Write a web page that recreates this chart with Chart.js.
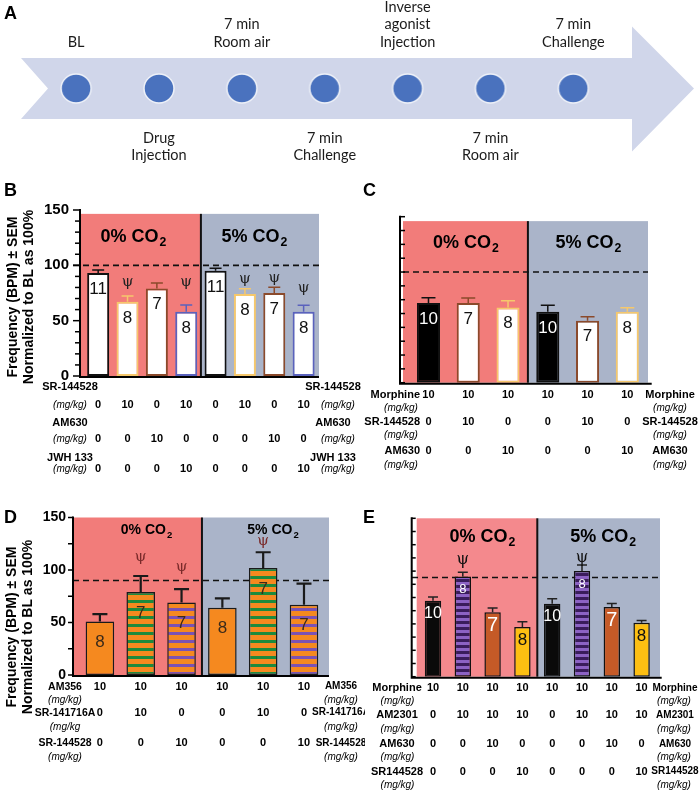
<!DOCTYPE html>
<html>
<head>
<meta charset="utf-8">
<title>CO2 challenge - breathing frequency</title>
<script src="https://cdn.jsdelivr.net/npm/chart.js@4.4.1/dist/chart.umd.min.js"></script>
<style>
  html, body { margin: 0; padding: 0; background: #ffffff; }
  body { position: relative; width: 700px; height: 791px; overflow: hidden; }
  canvas { position: absolute; }
</style>
</head>
<body>
<canvas id="chartA" width="700" height="177" style="left:0px;top:0px"></canvas>
<canvas id="chartB" width="365" height="305" style="left:0px;top:175px"></canvas>
<canvas id="chartC" width="350" height="305" style="left:350px;top:175px"></canvas>
<canvas id="chartD" width="365" height="311" style="left:0px;top:480px"></canvas>
<canvas id="chartE" width="350" height="311" style="left:350px;top:480px"></canvas>
<script>
/*----------------------------------------------------------------------*/
/* dados */
const FONT = '"Liberation Sans", Arial, sans-serif';
const co2Groups = ['0%', '5%'];
const yTitleLines = ['Frequency (BPM) \u00b1 SEM', 'Normalized to BL as 100%'];

// A - protocolo
const timelineSteps = [['BL'], ['Drug', 'Injection'], ['7 min', 'Room air'], ['7 min', 'Challenge'],
  ['Inverse', 'agonist', 'Injection'], ['7 min', 'Room air'], ['7 min', 'Challenge']];
const timelineSide = ['above', 'below', 'above', 'below', 'above', 'below', 'above'];

// B
const bCats = ['Veh 0%', 'SR-144528 0%', 'AM630 0%', 'JWH 133 0%', 'Veh 5%', 'SR-144528 5%', 'AM630 5%', 'JWH 133 5%'];
const bMean = [93, 67, 79, 58, 95, 74, 75, 58];
const bSem = [2.7, 5.4, 5.1, 6.1, 2.4, 4.8, 5.1, 5.9];
const bN = [11, 8, 7, 8, 11, 8, 7, 8];
const bPsi = [0, 1, 0, 1, 0, 1, 1, 1];
const bSR144528 = [0, 10, 0, 10, 0, 10, 0, 10];
const bAM630 = [0, 0, 10, 0, 0, 0, 10, 0];
const bJWH133 = [0, 0, 0, 10, 0, 0, 0, 10];

// C
const cCats = ['Mor 0%', 'Mor+SR 0%', 'Mor+AM630 0%', 'Mor 5%', 'Mor+SR 5%', 'Mor+AM630 5%'];
const cMean = [72, 72, 68, 64, 56, 64];
const cSem = [4.7, 4.5, 6, 6, 3.6, 3.7];
const cN = [10, 7, 8, 10, 7, 8];
const cMorphine = [10, 10, 10, 10, 10, 10];
const cSR144528 = [0, 10, 0, 0, 10, 0];
const cAM630 = [0, 0, 10, 0, 0, 10];

// D
const dCats = ['AM356 0%', 'AM356+SR141 0%', 'AM356+SR144 0%', 'AM356 5%', 'AM356+SR141 5%', 'AM356+SR144 5%'];
const dMean = [51, 79, 69, 64, 102, 67];
const dSem = [7, 15.3, 12.7, 8.9, 14.9, 20];
const dN = [8, 7, 7, 8, 7, 7];
const dPsi = [0, 1, 1, 0, 1, 0];
const dAM356 = [10, 10, 10, 10, 10, 10];
const dSR141716A = [0, 10, 0, 0, 10, 0];
const dSR144528 = [0, 0, 10, 0, 0, 10];

// E
const eCats = ['Mor 0%', 'Mor+AM2301 0%', 'Mor+AM2301+AM630 0%', 'Mor+AM2301+SR 0%',
  'Mor 5%', 'Mor+AM2301 5%', 'Mor+AM2301+AM630 5%', 'Mor+AM2301+SR 5%'];
const eMean = [72, 95, 61, 47, 69, 100, 66, 51];
const eSem = [3.5, 4, 4, 5, 4.7, 5.7, 3.2, 2.3];
const eN = [10, 8, 7, 8, 10, 8, 7, 8];
const ePsi = [0, 1, 0, 0, 0, 1, 0, 0];
const eMorphine = [10, 10, 10, 10, 10, 10, 10, 10];
const eAM2301 = [0, 10, 10, 10, 0, 10, 10, 10];
const eAM630 = [0, 0, 10, 0, 0, 0, 10, 0];
const eSR144528 = [0, 0, 0, 10, 0, 0, 0, 10];

/*----------------------------------------------------------------------*/
/* cores e padroes */
const RED = '#f27c7a';
const RED_E = '#f4898d';
const BLUE = '#aab4c9';
const ORANGE = '#f5891f';
const YELLOW_EDGE = '#f6c86c';
const BROWN_EDGE = '#8b4a2b';
const BLUE_EDGE = '#5a62bd';

function stripes(base, line, period, thick) {
  const c = document.createElement('canvas');
  c.width = 4; c.height = period;
  const g = c.getContext('2d');
  g.fillStyle = base; g.fillRect(0, 0, 4, period);
  g.fillStyle = line; g.fillRect(0, 0, 4, thick);
  return g.createPattern(c, 'repeat');
}
const greenStripe = stripes(ORANGE, '#1d8a3d', 8, 3);
const purpleStripe = stripes(ORANGE, '#7b52b3', 8, 3);
const darkPurpleStripe = stripes('#3a1c5c', '#8c62c4', 6, 3);

const pick = (v, i) => Array.isArray(v) ? v[i] : v;

/*----------------------------------------------------------------------*/
/* painel A */
function ellipseDot(rx, ry, fill, edge) {
  const c = document.createElement('canvas');
  c.width = Math.ceil(rx * 2 + 4); c.height = Math.ceil(ry * 2 + 4);
  const g = c.getContext('2d');
  g.beginPath();
  g.ellipse(c.width / 2, c.height / 2, rx, ry, 0, 0, Math.PI * 2);
  g.fillStyle = fill; g.fill();
  g.lineWidth = 1.5; g.strokeStyle = edge; g.stroke();
  return c;
}

const timelinePlugin = {
  id: 'timeline',
  beforeDatasetsDraw(chart) {
    const {ctx, scales: {y}} = chart;
    const cy = y.getPixelForValue(0);
    ctx.save();
    ctx.fillStyle = '#d0d6ea';
    ctx.beginPath();
    ctx.moveTo(21, cy - 30.5);
    ctx.lineTo(632, cy - 30.5);
    ctx.lineTo(632, cy - 62);
    ctx.lineTo(694, cy);
    ctx.lineTo(632, cy + 63);
    ctx.lineTo(632, cy + 30.5);
    ctx.lineTo(21, cy + 30.5);
    ctx.lineTo(48, cy);
    ctx.closePath();
    ctx.fill();
    ctx.restore();
  },
  afterDatasetsDraw(chart) {
    const {ctx, scales: {x}} = chart;
    ctx.save();
    ctx.font = '14.5px Lato, "Open Sans", sans-serif';
    ctx.fillStyle = '#1b1b1b';
    ctx.textAlign = 'center';
    ctx.textBaseline = 'middle';
    timelineSteps.forEach((lines, i) => {
      const px = x.getPixelForValue(i + 1);
      lines.forEach((t, k) => {
        const py = timelineSide[i] === 'above' ? 42 - (lines.length - 1 - k) * 17.5 : 138.5 + k * 17;
        ctx.fillText(t, px, py);
      });
    });
    ctx.font = 'bold 18px ' + FONT;
    ctx.textAlign = 'left';
    ctx.fillStyle = '#000';
    ctx.fillText('A', 4, 14);
    ctx.restore();
  }
};

const chartA = new Chart(document.getElementById('chartA'), {
  type: 'scatter',
  data: {
    datasets: [{
      data: timelineSteps.map((s, i) => ({x: i + 1, y: 0})),
      pointStyle: ellipseDot(15, 14.5, '#4a72be', '#eef1f8'),
      pointRadius: 15
    }]
  },
  options: {
    responsive: false,
    animation: false,
    devicePixelRatio: 1,
    events: [],
    layout: {padding: 0},
    plugins: {legend: {display: false}, tooltip: {enabled: false}},
    scales: {
      x: {type: 'linear', display: false, min: 0.2745, max: 8.336},
      y: {display: false, min: -1, max: 1}
    }
  },
  plugins: [timelinePlugin]
});

/*----------------------------------------------------------------------*/
/* paineis de barras */
function drawCO2(ctx, pct, cx, cy, size) {
  const main = pct + ' CO';
  ctx.font = 'bold ' + size + 'px ' + FONT;
  const w1 = ctx.measureText(main).width;
  ctx.font = 'bold ' + (size * 0.68) + 'px ' + FONT;
  const w2 = ctx.measureText('2').width;
  const x0 = cx - (w1 + w2) / 2;
  ctx.textAlign = 'left';
  ctx.textBaseline = 'middle';
  ctx.font = 'bold ' + size + 'px ' + FONT;
  ctx.fillText(main, x0, cy);
  ctx.font = 'bold ' + (size * 0.68) + 'px ' + FONT;
  ctx.fillText('2', x0 + w1 + 1, cy + size * 0.32);
}

function panelPlugin(p) {
  const getMid = chart => {
    const x = chart.scales.x;
    return (x.getPixelForValue(p.split - 1) + x.getPixelForValue(p.split)) / 2;
  };
  return {
    id: 'panel' + p.letter,
    beforeDraw(chart) {
      const {ctx, chartArea: a, scales: {y}} = chart;
      const mid = getMid(chart);
      const top = y.getPixelForValue(p.shadeTop);
      ctx.save();
      ctx.fillStyle = p.red;
      ctx.fillRect(p.shadeL, top, mid - p.shadeL, a.bottom - top);
      ctx.fillStyle = BLUE;
      ctx.fillRect(mid, top, p.shadeR - mid, a.bottom - top);
      ctx.restore();
    },
    beforeDatasetsDraw(chart) {
      const {ctx, chartArea: a, scales: {y}} = chart;
      const mid = getMid(chart);
      const top = y.getPixelForValue(p.shadeTop);
      const yb = y.getPixelForValue(p.baseline);
      ctx.save();
      ctx.strokeStyle = '#111';
      ctx.lineWidth = 2;
      ctx.beginPath();
      ctx.moveTo(mid, top);
      ctx.lineTo(mid, a.bottom);
      ctx.stroke();
      ctx.lineWidth = 1.6;
      ctx.setLineDash([6, 4]);
      ctx.beginPath();
      ctx.moveTo(p.dashL, yb);
      ctx.lineTo(p.shadeR, yb);
      ctx.stroke();
      ctx.restore();
    },
    afterDatasetsDraw(chart) {
      const {ctx, scales: {y}} = chart;
      const bars = chart.getDatasetMeta(0).data;
      ctx.save();
      ctx.textAlign = 'center';
      ctx.textBaseline = 'middle';
      bars.forEach((bar, i) => {
        const yc = y.getPixelForValue(p.mean[i] + p.sem[i]);
        // barra de erro (so para cima)
        ctx.strokeStyle = pick(p.errColor, i);
        ctx.lineWidth = p.errWidth;
        ctx.beginPath();
        ctx.moveTo(bar.x, bar.y);
        ctx.lineTo(bar.x, yc);
        ctx.moveTo(bar.x - p.cap / 2, yc);
        ctx.lineTo(bar.x + p.cap / 2, yc);
        ctx.stroke();
        // n dentro da barra
        ctx.fillStyle = pick(p.nColor, i);
        ctx.font = pick(p.nSize, i) + 'px ' + FONT;
        ctx.fillText(String(p.n[i]), bar.x, bar.y + p.nDy);
        if (p.psi && p.psi[i]) {
          ctx.fillStyle = p.psiColor;
          ctx.font = p.psiSize + 'px "DejaVu Serif", serif';
          ctx.fillText('\u03c8', bar.x, yc - pick(p.psiDy, i));
        }
      });
      ctx.restore();
    },
    afterDraw(chart) {
      const {ctx, chartArea: a, scales: {x, y}} = chart;
      ctx.save();
      ctx.strokeStyle = '#000';
      ctx.fillStyle = '#000';
      // eixos
      ctx.lineWidth = 2;
      ctx.beginPath();
      ctx.moveTo(p.axisX, y.getPixelForValue(150) - 1);
      ctx.lineTo(p.axisX, a.bottom + 1);
      ctx.lineTo(p.axisR, a.bottom + 1);
      ctx.stroke();
      // marcas do eixo y
      ctx.lineWidth = 1.5;
      ctx.textAlign = 'right';
      ctx.textBaseline = 'middle';
      ctx.font = 'bold ' + p.tickFont + 'px ' + FONT;
      for (let v = 0; v <= 150; v += p.step) {
        const py = y.getPixelForValue(v);
        const major = v % 50 === 0;
        const len = major ? p.tickLen : p.tickLenMinor;
        ctx.beginPath();
        ctx.moveTo(p.axisX, py);
        ctx.lineTo(p.axisX + p.tickDir * len, py);
        ctx.stroke();
        if (p.tickLabels && major) ctx.fillText(String(v), p.labelR, py);
      }
      // titulos 0% / 5% CO2
      const mid = getMid(chart);
      const centers = [(p.shadeL + mid) / 2 + p.titleDx[0], (mid + p.shadeR) / 2 + p.titleDx[1]];
      co2Groups.forEach((g, k) => drawCO2(ctx, g, centers[k], a.top + p.titleDy, p.titleSize));
      // tabela de doses
      ctx.textBaseline = 'middle';
      p.table.forEach((row, r) => {
        const yName = a.bottom + p.nameDy[r];
        const yVal = a.bottom + p.valDy[r];
        const yUnit = a.bottom + p.unitDy[r];
        ctx.font = 'bold ' + p.nameSize + 'px ' + FONT;
        ctx.textAlign = p.nameAlign;
        ctx.fillText(row.name, p.nameX, yName);
        ctx.font = 'bold ' + p.rNameSize + 'px ' + FONT;
        ctx.textAlign = 'center';
        ctx.fillText(row.name, p.rNameX, yName);
        ctx.font = 'bold ' + p.valSize + 'px ' + FONT;
        row.values.forEach((v, i) => ctx.fillText(String(v), x.getPixelForValue(i), yVal));
        ctx.font = 'italic ' + p.unitSize + 'px ' + FONT;
        ctx.fillText(row.unit || '(mg/kg)', p.unitX, yUnit);
        ctx.fillText('(mg/kg)', p.rUnitX, yUnit);
      });
      // titulo do eixo y
      if (p.yTitleX) {
        ctx.font = 'bold 14px ' + FONT;
        ctx.textAlign = 'center';
        yTitleLines.forEach((t, k) => {
          ctx.save();
          ctx.translate(p.yTitleX[k], p.yTitleY);
          ctx.rotate(-Math.PI / 2);
          ctx.fillText(t, 0, 0);
          ctx.restore();
        });
      }
      // letra do painel
      ctx.font = 'bold 18px ' + FONT;
      ctx.textAlign = 'left';
      ctx.fillText(p.letter, p.letterX, p.letterY);
      ctx.restore();
    }
  };
}

function barPanel(id, p) {
  const el = document.getElementById(id);
  return new Chart(el, {
    type: 'bar',
    data: {
      labels: p.cats,
      datasets: [{
        data: p.mean,
        backgroundColor: p.fill,
        borderColor: p.edge,
        borderWidth: p.edgeWidth,
        borderSkipped: false,
        barPercentage: p.barPct,
        categoryPercentage: 1
      }]
    },
    options: {
      responsive: false,
      animation: false,
      devicePixelRatio: 1,
      events: [],
      layout: {padding: {left: p.areaL, right: el.width - p.areaR, top: p.yTop, bottom: el.height - p.yBot}},
      plugins: {legend: {display: false}, tooltip: {enabled: false}},
      scales: {
        x: {display: false, offset: true},
        y: {display: false, min: 0, max: 150}
      }
    },
    plugins: [panelPlugin(p)]
  });
}

const bEdge = ['#111', YELLOW_EDGE, BROWN_EDGE, BLUE_EDGE, '#111', YELLOW_EDGE, BROWN_EDGE, BLUE_EDGE];
const chartB = barPanel('chartB', {
  letter: 'B', letterX: 4, letterY: 16,
  cats: bCats, mean: bMean, sem: bSem, n: bN, psi: bPsi,
  fill: '#ffffff', edge: bEdge, edgeWidth: 2, barPct: 0.75,
  errColor: bEdge, errWidth: 1.5, cap: 12,
  nColor: '#111', nSize: 17, nDy: 16,
  psiColor: '#222', psiSize: 15, psiDy: [0, 14, 0, 23, 0, 10, 9, 17],
  areaL: 83.5, areaR: 318.3, yTop: 35, yBot: 201,
  axisX: 80, axisR: 319, shadeL: 81, shadeR: 319, shadeTop: 146.5, dashL: 73,
  red: RED, baseline: 100, split: 4,
  step: 10, tickDir: -1, tickLen: 7, tickLenMinor: 5, tickLabels: true, tickFont: 15, labelR: 69,
  titleSize: 18, titleDy: 27, titleDx: [-8, -6],
  yTitleX: [13, 29], yTitleY: 122,
  table: [
    {name: 'SR-144528', values: bSR144528},
    {name: 'AM630', values: bAM630},
    {name: 'JWH 133', values: bJWH133}
  ],
  nameAlign: 'center', nameX: 70, nameSize: 11, rNameX: 333, rNameSize: 11, valSize: 11,
  unitX: 70, rUnitX: 338, unitSize: 10,
  nameDy: [11, 47, 82], valDy: [29, 63, 93], unitDy: [29, 63, 93]
});

const cEdge = ['#111', BROWN_EDGE, YELLOW_EDGE, '#111', BROWN_EDGE, YELLOW_EDGE];
const chartC = barPanel('chartC', {
  letter: 'C', letterX: 13, letterY: 16,
  cats: cCats, mean: cMean, sem: cSem, n: cN, psi: null,
  fill: ['#000', '#fff', '#fff', '#000', '#fff', '#fff'], edge: cEdge, edgeWidth: 2, barPct: 0.58,
  errColor: cEdge, errWidth: 1.5, cap: 14,
  nColor: ['#fff', '#111', '#111', '#fff', '#111', '#111'], nSize: 17, nDy: 16,
  areaL: 58.6, areaR: 297.2, yTop: 41.7, yBot: 207.7,
  axisX: 50, axisR: 301.7, shadeL: 53, shadeR: 298, shadeTop: 146, dashL: 53,
  red: RED, baseline: 100, split: 3,
  step: 12.5, tickDir: 1, tickLen: 5, tickLenMinor: 5, tickLabels: false, tickFont: 14, labelR: 0,
  titleSize: 18, titleDy: 26, titleDx: [0, 0],
  yTitleX: null,
  table: [
    {name: 'Morphine', values: cMorphine},
    {name: 'SR-144528', values: cSR144528},
    {name: 'AM630', values: cAM630}
  ],
  nameAlign: 'right', nameX: 70, nameSize: 11, rNameX: 320, rNameSize: 11, valSize: 11,
  unitX: 51, rUnitX: 320, unitSize: 10,
  nameDy: [12.3, 39.3, 68.3], valDy: [12.3, 39.3, 68.3], unitDy: [25.3, 52.3, 82.3]
});

const chartD = barPanel('chartD', {
  letter: 'D', letterX: 4, letterY: 38,
  cats: dCats, mean: dMean, sem: dSem, n: dN, psi: dPsi,
  fill: [ORANGE, greenStripe, purpleStripe, ORANGE, greenStripe, purpleStripe], edge: '#1a1a1a', edgeWidth: 1.5, barPct: 0.7,
  errColor: '#1a1a1a', errWidth: 2.2, cap: 15,
  nColor: '#3b2a1a', nSize: 17, nDy: 21,
  psiColor: '#7a2a2a', psiSize: 15, psiDy: [0, 19, 22, 0, 11, 0],
  areaL: 79.5, areaR: 324.4, yTop: 37.5, yBot: 195,
  axisX: 73, axisR: 329, shadeL: 74, shadeR: 329, shadeTop: 150, dashL: 73,
  red: RED, baseline: 90, split: 3,
  step: 25, tickDir: -1, tickLen: 5, tickLenMinor: 5, tickLabels: true, tickFont: 14, labelR: 66,
  titleSize: 14, titleDy: 13, titleDx: [8, 7],
  yTitleX: [12, 28], yTitleY: 147,
  table: [
    {name: 'AM356', values: dAM356},
    {name: 'SR-141716A', values: dSR141716A, unit: '(mg/kg'},
    {name: 'SR-144528', values: dSR144528}
  ],
  nameAlign: 'center', nameX: 65, nameSize: 10.5, rNameX: 341, rNameSize: 10, valSize: 11,
  unitX: 65, rUnitX: 341, unitSize: 10,
  nameDy: [11.7, 37.7, 68], valDy: [11.7, 37.7, 68], unitDy: [25, 52, 82]
});

const chartE = barPanel('chartE', {
  letter: 'E', letterX: 13, letterY: 38,
  cats: eCats, mean: eMean, sem: eSem, n: eN, psi: ePsi,
  fill: ['#0a0a0a', darkPurpleStripe, '#c55a27', '#fdbf12', '#0a0a0a', darkPurpleStripe, '#c55a27', '#fdbf12'],
  edge: '#111', edgeWidth: 1.5, barPct: 0.55,
  errColor: '#222', errWidth: 1.5, cap: 10,
  nColor: ['#fff', '#fff', '#fff', '#111', '#fff', '#fff', '#fff', '#111'],
  nSize: [16, 13, 20, 17, 16, 13, 20, 17], nDy: 13,
  psiColor: '#111', psiSize: 16, psiDy: [0, 12, 0, 0, 0, 7, 0, 0],
  areaL: 68.1, areaR: 306.5, yTop: 38.3, yBot: 196.7,
  axisX: 61.7, axisR: 311.7, shadeL: 66.7, shadeR: 310, shadeTop: 150, dashL: 62,
  red: RED_E, baseline: 94, split: 4,
  step: 12.5, tickDir: 1, tickLen: 4, tickLenMinor: 4, tickLabels: false, tickFont: 14, labelR: 0,
  titleSize: 18, titleDy: 18.7, titleDx: [5, 4],
  yTitleX: null,
  table: [
    {name: 'Morphine', values: eMorphine},
    {name: 'AM2301', values: eAM2301},
    {name: 'AM630', values: eAM630},
    {name: 'SR144528', values: eSR144528}
  ],
  nameAlign: 'center', nameX: 47, nameSize: 11, rNameX: 325, rNameSize: 10, valSize: 11,
  unitX: 47.5, rUnitX: 324, unitSize: 10,
  nameDy: [11.6, 38.3, 67.3, 95], valDy: [11.6, 38.3, 67.3, 95], unitDy: [25, 52.6, 80.3, 108.3]
});
</script>
</body>
</html>
